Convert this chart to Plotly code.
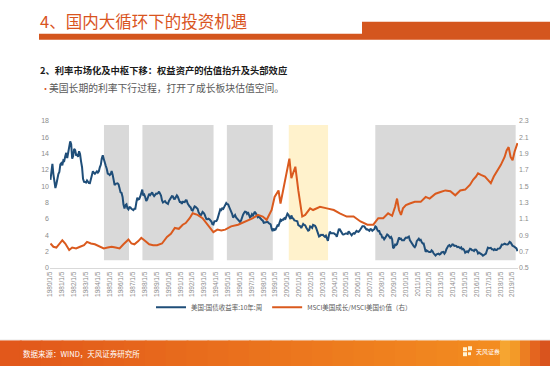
import pandas as pd
import plotly.graph_objects as go

# ---------------- data ----------------
# US 10Y treasury yield (%), monthly, starting 1980-01
us10y_start = "1980-01-01"
us10y = [
    10.80, 12.41, 12.75, 11.47, 10.18, 9.78, 10.25, 11.10, 11.51, 11.75, 12.68, 12.84,
    12.57, 13.19, 13.12, 13.68, 14.10, 13.47, 14.28, 14.94, 15.50, 15.15, 13.39, 13.72,
    14.59, 14.43, 13.86, 13.87, 13.62, 14.30, 13.95, 13.06, 12.34, 10.91, 10.55, 10.54,
    10.46, 10.72, 10.51, 10.40, 10.38, 10.85, 11.38, 11.85, 11.65, 11.54, 11.69, 11.83,
    11.67, 11.84, 12.32, 12.63, 13.41, 13.80, 13.36, 12.72, 12.52, 12.16, 11.57, 11.50,
    11.38, 11.51, 11.86, 11.43, 10.85, 10.16, 10.31, 10.33, 10.37, 10.24, 9.78, 9.26,
    9.19, 8.70, 7.78, 7.30, 7.71, 7.80, 7.30, 7.17, 7.45, 7.43, 7.25, 7.11,
    7.08, 7.25, 7.25, 8.02, 8.61, 8.40, 8.45, 8.76, 9.42, 9.60, 8.86, 8.99,
    8.67, 8.21, 8.37, 8.72, 9.09, 8.92, 9.06, 9.26, 8.98, 8.80, 8.96, 9.11,
    9.09, 9.17, 9.36, 9.18, 8.86, 8.28, 8.02, 8.11, 8.19, 8.01, 7.87, 7.84,
    8.21, 8.47, 8.59, 8.79, 8.76, 8.48, 8.47, 8.75, 8.89, 8.72, 8.39, 8.08,
    8.09, 7.85, 8.11, 8.04, 8.07, 8.28, 8.27, 7.90, 7.65, 7.53, 7.42, 7.09,
    7.03, 7.34, 7.54, 7.48, 7.39, 7.26, 6.84, 6.59, 6.42, 6.59, 6.87, 6.77,
    6.60, 6.26, 5.98, 5.97, 6.04, 5.96, 5.81, 5.68, 5.36, 5.33, 5.72, 5.77,
    5.75, 5.97, 6.48, 6.97, 7.18, 7.10, 7.30, 7.24, 7.46, 7.74, 7.96, 7.81,
    7.78, 7.47, 7.20, 7.06, 6.63, 6.17, 6.28, 6.49, 6.20, 6.04, 5.93, 5.71,
    5.65, 5.81, 6.27, 6.51, 6.74, 6.91, 6.87, 6.64, 6.83, 6.53, 6.20, 6.30,
    6.58, 6.42, 6.69, 6.89, 6.71, 6.49, 6.22, 6.30, 6.21, 6.03, 5.88, 5.81,
    5.54, 5.57, 5.65, 5.64, 5.65, 5.50, 5.46, 5.34, 4.81, 4.53, 4.83, 4.65,
    4.72, 5.00, 5.23, 5.18, 5.54, 5.90, 5.79, 5.94, 5.92, 6.11, 6.03, 6.28,
    6.66, 6.52, 6.26, 5.99, 6.44, 6.10, 6.05, 5.83, 5.80, 5.74, 5.72, 5.24,
    5.16, 5.10, 4.89, 5.14, 5.39, 5.28, 5.24, 4.97, 4.73, 4.57, 4.65, 5.09,
    5.04, 4.91, 5.28, 5.21, 5.16, 4.93, 4.65, 4.26, 3.87, 3.94, 4.05, 4.03,
    4.05, 3.90, 3.81, 3.96, 3.57, 3.33, 3.98, 4.45, 4.27, 4.29, 4.30, 4.27,
    4.15, 4.08, 3.83, 4.35, 4.72, 4.73, 4.50, 4.28, 4.13, 4.10, 4.19, 4.23,
    4.22, 4.17, 4.50, 4.34, 4.14, 4.00, 4.18, 4.26, 4.20, 4.46, 4.54, 4.47,
    4.42, 4.57, 4.72, 4.99, 5.11, 5.11, 5.09, 4.88, 4.72, 4.73, 4.60, 4.56,
    4.76, 4.72, 4.56, 4.69, 4.75, 5.10, 5.00, 4.67, 4.52, 4.53, 4.15, 4.10,
    3.74, 3.74, 3.51, 3.68, 3.88, 4.10, 4.01, 3.89, 3.69, 3.81, 3.53, 2.42,
    2.52, 2.87, 2.82, 2.93, 3.29, 3.72, 3.56, 3.59, 3.40, 3.39, 3.40, 3.59,
    3.73, 3.69, 3.73, 3.85, 3.42, 3.20, 3.01, 2.70, 2.65, 2.54, 2.76, 3.29,
    3.39, 3.58, 3.41, 3.46, 3.17, 3.00, 3.00, 2.30, 1.98, 2.15, 2.01, 1.98,
    1.97, 1.97, 2.17, 2.05, 1.80, 1.62, 1.53, 1.68, 1.72, 1.75, 1.65, 1.72,
    1.91, 1.98, 1.96, 1.76, 1.93, 2.30, 2.58, 2.74, 2.81, 2.62, 2.72, 2.90,
    2.86, 2.71, 2.72, 2.71, 2.56, 2.60, 2.54, 2.42, 2.53, 2.30, 2.33, 2.21,
    1.88, 1.98, 2.04, 1.94, 2.20, 2.36, 2.32, 2.17, 2.17, 2.07, 2.26, 2.24,
    2.09, 1.78, 1.89, 1.81, 1.81, 1.64, 1.50, 1.56, 1.63, 1.76, 2.14, 2.49,
    2.43, 2.42, 2.48, 2.30, 2.30, 2.19, 2.32, 2.21, 2.20, 2.36, 2.35, 2.40,
    2.58, 2.86, 2.84, 2.87, 2.98, 2.91, 2.89, 2.89, 3.00, 3.20, 3.12, 2.83,
    2.71, 2.68, 2.57, 2.53, 2.40, 2.05,
]

# MSCI US Growth / MSCI US Value (right axis)
ratio_dates = [
    "1980-01", "1980-04", "1980-07", "1980-10", "1981-01", "1981-04", "1981-08", "1981-11",
    "1982-03", "1982-07", "1982-11", "1983-02", "1983-06", "1983-10", "1984-02", "1984-07",
    "1984-11", "1985-03", "1985-07", "1985-11", "1986-03", "1986-08", "1986-11", "1987-02",
    "1987-06", "1987-09", "1988-01", "1988-05", "1988-09", "1989-01", "1989-06", "1989-11",
    "1990-03", "1990-07", "1990-11", "1991-03", "1991-06", "1991-10", "1992-01", "1992-06",
    "1992-11", "1993-04", "1993-10", "1994-02", "1994-06", "1994-10", "1995-04", "1995-11",
    "1996-03", "1996-08", "1997-02", "1997-07", "1997-12", "1998-04", "1998-09", "1998-12",
    "1999-04", "1999-06", "1999-09", "1999-12", "2000-03", "2000-05", "2000-07", "2000-09",
    "2000-12", "2001-04", "2001-07", "2001-12", "2002-03", "2002-10", "2003-05", "2003-12",
    "2004-06", "2005-01", "2005-08", "2006-03", "2006-10", "2007-04", "2007-09", "2008-02",
    "2008-07", "2008-11", "2009-02", "2009-04", "2009-06", "2009-08", "2009-10", "2010-01",
    "2010-05", "2010-10", "2011-04", "2011-09", "2012-01", "2012-07", "2012-12", "2013-05",
    "2013-10", "2014-03", "2014-08", "2015-01", "2015-06", "2015-09", "2015-12", "2016-02",
    "2016-05", "2016-09", "2016-12", "2017-03", "2017-06", "2017-10", "2018-01", "2018-05",
    "2018-07", "2018-09", "2018-11", "2019-01", "2019-03", "2019-06",
]
ratio_vals = [
    0.80, 0.76, 0.75, 0.80, 0.84, 0.80, 0.72, 0.75,
    0.74, 0.76, 0.78, 0.82, 0.80, 0.79, 0.77, 0.74,
    0.75, 0.76, 0.75, 0.74, 0.79, 0.85, 0.80, 0.79,
    0.83, 0.87, 0.83, 0.79, 0.78, 0.78, 0.80, 0.88,
    0.92, 0.99, 0.98, 1.03, 1.05, 1.11, 1.17, 1.15,
    1.11, 1.03, 0.94, 0.97, 0.96, 0.97, 1.01, 1.03,
    1.05, 1.07, 1.11, 1.15, 1.13, 1.09, 1.21, 1.37,
    1.45, 1.29, 1.48, 1.68, 1.84, 1.60, 1.66, 1.74,
    1.45, 1.13, 1.15, 1.23, 1.21, 1.25, 1.23, 1.21,
    1.17, 1.13, 1.13, 1.07, 1.03, 1.03, 1.11, 1.11,
    1.17, 1.14, 1.25, 1.35, 1.21, 1.15, 1.23, 1.27,
    1.29, 1.31, 1.31, 1.37, 1.35, 1.41, 1.43, 1.45,
    1.44, 1.39, 1.45, 1.46, 1.52, 1.58, 1.62, 1.66,
    1.64, 1.62, 1.58, 1.54, 1.62, 1.70, 1.76, 1.86,
    1.94, 1.98, 1.86, 1.82, 1.92, 2.03,
]

# shaded periods: (start, end, kind)
shade_start = ["1984-07-22", "1987-10-20", "1994-12-05", "2000-02-25", "2007-06-15"]
shade_end = ["1986-09-01", "1993-10-20", "1998-10-20", "2003-06-20", "2019-04-20"]
shade_kind = ["gray", "gray", "gray", "yellow", "gray"]
shade_bottom, shade_top = 0.95, 17.5

tick_years = list(range(1980, 2020))
left_ticks = [0, 2, 4, 6, 8, 10, 12, 14, 16, 18]
right_ticks = [0.5, 0.7, 0.9, 1.1, 1.3, 1.5, 1.7, 1.9, 2.1, 2.3]

name_blue = "美国:国债收益率:10年:周"
name_orange = "MSCI美国成长/MSCI美国价值（右）"

# ---------------- figure ----------------
W, H = 550, 366
PL, PR, PT, PB = 50, 518, 121, 268.5


def fx(p):
    return (p - PL) / (PR - PL)


def fy(p):
    return (PB - p) / (PB - PT)


blue_dates = pd.date_range(us10y_start, periods=len(us10y), freq="MS") + pd.Timedelta(days=14)
ratio_x = pd.to_datetime(ratio_dates) + pd.Timedelta(days=14)

CJK = "Noto Sans CJK SC"
BLUE = "#1F4E79"
ORANGE = "#DA5A1E"

fig = go.Figure()
fig.add_trace(go.Scatter(x=blue_dates, y=us10y, mode="lines", name=name_blue,
                         line=dict(color=BLUE, width=2)))
fig.add_trace(go.Scatter(x=ratio_x, y=ratio_vals, mode="lines", name=name_orange,
                         yaxis="y2", line=dict(color=ORANGE, width=2)))

shapes = []
fills = {"gray": "#D9D9D9", "yellow": "#FFF2CC"}
for s, e, k in zip(shade_start, shade_end, shade_kind):
    shapes.append(dict(type="rect", xref="x", yref="y", x0=s, x1=e,
                       y0=shade_bottom, y1=shade_top, fillcolor=fills[k],
                       line=dict(width=0), layer="below"))

# title bar
TITLE_C = "#D4561E"
shapes.append(dict(type="rect", xref="paper", yref="paper", x0=fx(39), x1=fx(362),
                   y0=fy(39.5), y1=fy(33.5), fillcolor=TITLE_C, line=dict(width=0)))
shapes.append(dict(type="rect", xref="paper", yref="paper", x0=fx(362), x1=fx(552),
                   y0=fy(39.5), y1=fy(21.5), fillcolor=TITLE_C, line=dict(width=0)))

# footer gradient
c0 = (226, 88, 27)
c1 = (243, 140, 32)
n = 24
seg_w = 500 / n
for i in range(n):
    t = i / (n - 1)
    c = tuple(int(c0[j] + (c1[j] - c0[j]) * t) for j in range(3))
    shapes.append(dict(type="rect", xref="paper", yref="paper",
                       x0=fx(i * seg_w - 1), x1=fx((i + 1) * seg_w + 1),
                       y0=fy(367), y1=fy(341), fillcolor="rgb(%d,%d,%d)" % c,
                       line=dict(width=0)))
tiles = [(500, 510, "#F6A531"), (510, 520, "#F39A28"), (520, 530, "#EC7E22"),
         (530, 540, "#E4651F"), (540, 552, "#D9541E")]
for a, b, col in tiles:
    shapes.append(dict(type="rect", xref="paper", yref="paper", x0=fx(a), x1=fx(b),
                       y0=fy(367), y1=fy(341), fillcolor=col, line=dict(width=0)))
shapes.append(dict(type="line", xref="paper", yref="paper", x0=fx(0), x1=fx(550),
                   y0=fy(340.5), y1=fy(340.5), line=dict(color="#EFEFEF", width=1)))
# logo mark
for (a, b, c, d) in [(463, 467, 348, 352), (468, 472, 347, 351), (463, 467, 353, 357),
                     (468, 471, 353, 356)]:
    shapes.append(dict(type="rect", xref="paper", yref="paper", x0=fx(a), x1=fx(b),
                       y0=fy(d), y1=fy(c), fillcolor="#FFF4D6", line=dict(width=0)))

annotations = [
    dict(text="4、国内大循环下的投资机遇", x=fx(38), y=fy(20.5), xref="paper", yref="paper",
         xanchor="left", yanchor="middle", showarrow=False,
         font=dict(family=CJK, size=16.5, color="#D9541E")),
    dict(text="<b>2、利率市场化及中枢下移：权益资产的估值抬升及头部效应</b>", x=fx(38), y=fy(70),
         xref="paper", yref="paper", xanchor="left", yanchor="middle", showarrow=False,
         font=dict(family=CJK, size=9.3, color="#1A1A1A")),
    dict(text="•", x=fx(39), y=fy(88), xref="paper", yref="paper", xanchor="left",
         yanchor="middle", showarrow=False, font=dict(family=CJK, size=9, color="#D9541E")),
    dict(text="美国长期的利率下行过程，打开了成长板块估值空间。", x=fx(47), y=fy(88),
         xref="paper", yref="paper", xanchor="left", yanchor="middle", showarrow=False,
         font=dict(family=CJK, size=9.8, color="#595959")),
    dict(text="数据来源：WIND，天风证券研究所", x=fx(21), y=fy(354), xref="paper", yref="paper",
         xanchor="left", yanchor="middle", showarrow=False,
         font=dict(family=CJK, size=7.5, color="#FFFFFF")),
    dict(text="天风证券", x=fx(474), y=fy(352), xref="paper", yref="paper",
         xanchor="left", yanchor="middle", showarrow=False,
         font=dict(family=CJK, size=6, color="#FFFFFF")),
]

fig.update_layout(
    width=W, height=H,
    margin=dict(l=PL, r=W - PR, t=PT, b=H - PB, pad=0),
    paper_bgcolor="white", plot_bgcolor="white",
    shapes=shapes, annotations=annotations,
    showlegend=True,
    legend=dict(orientation="h", x=0.5, xanchor="center", y=fy(308), yanchor="middle",
                font=dict(family=CJK, size=6.5, color="#595959"), bgcolor="rgba(0,0,0,0)",
                itemwidth=30, tracegroupgap=0),
    xaxis=dict(type="date", range=["1980-01-01", "2019-07-01"],
               tickvals=["%d-01-05" % y for y in tick_years],
               ticktext=["%d/1/5" % y for y in tick_years],
               tickangle=-90, tickfont=dict(family="Liberation Sans", size=6.5, color="#8C8C8C"),
               showgrid=False, zeroline=False, showline=True, linecolor="#D9D9D9",
               linewidth=1, ticks=""),
    yaxis=dict(range=[0, 18], tickvals=left_ticks, ticktext=[str(v) for v in left_ticks],
               tickfont=dict(family="Liberation Sans", size=7, color="#8C8C8C"),
               showgrid=False, zeroline=False, showline=False, ticks=""),
    yaxis2=dict(range=[0.5, 2.3], overlaying="y", side="right", tickvals=right_ticks,
                ticktext=["%.1f" % v for v in right_ticks],
                tickfont=dict(family="Liberation Sans", size=7, color="#8C8C8C"),
                showgrid=False, zeroline=False, showline=False, ticks=""),
)

fig.write_html("out.html", config={"displayModeBar": False},
               post_script="document.body.style.margin='0px';document.body.style.overflow='hidden';")
